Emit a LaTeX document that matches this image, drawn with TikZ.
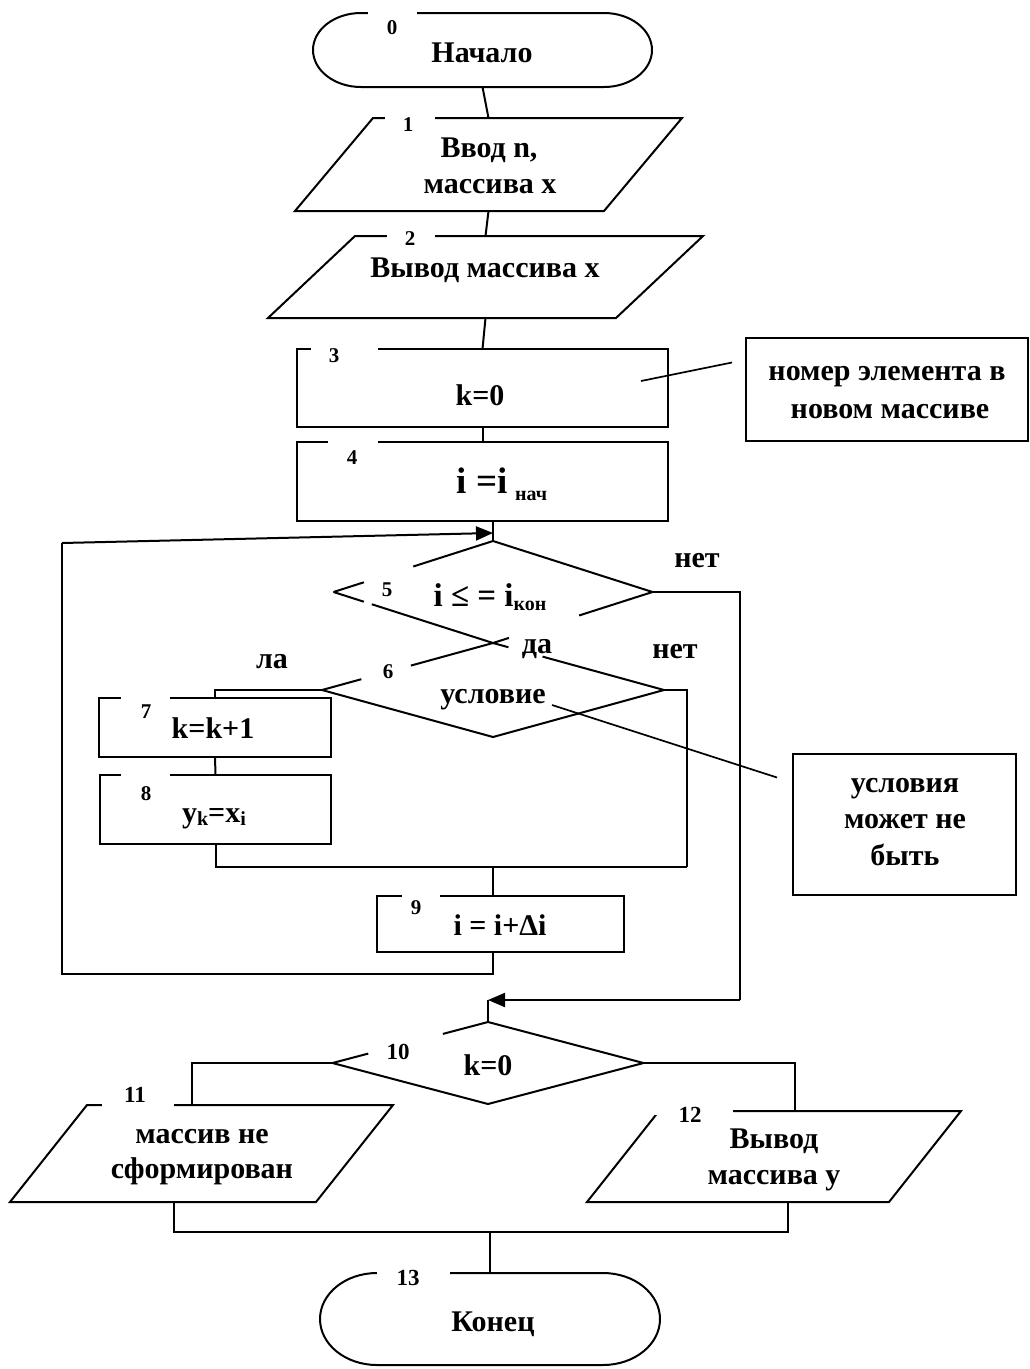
\documentclass[tikz,border=0pt]{standalone}
\usepackage{fontspec}
\setmainfont{Liberation Serif}
\usetikzlibrary{arrows.meta,calc,shapes.geometric}
\newcommand{\lowsub}[2][5pt]{\raisebox{-#1}{\fontsize{20}{20}\selectfont #2}}
\begin{document}
\begin{tikzpicture}[x=1pt,y=-1pt,
  line width=2pt,
  frame/.style={draw=none,inner sep=0pt,outer sep=0pt,rectangle},
  boxnode/.style={draw,inner sep=0pt,outer sep=0pt,rectangle},
  decision/.style={draw=none,inner sep=0pt,outer sep=0pt,diamond},
  txt/.style={font=\fontsize{30}{36}\selectfont\bfseries,inner sep=0pt,anchor=base},
  num/.style={font=\fontsize{21}{21}\selectfont\bfseries,inner sep=0pt},
  bignum/.style={font=\fontsize{23}{23}\selectfont\bfseries,inner sep=0pt},
  arr/.style={-{Triangle[length=17pt,width=14pt]}},
  note/.style={line width=1.7pt}]

\fill[white] (0,0) rectangle (1030,1369);
\useasboundingbox (0,0) rectangle (1030,1369);

% ---------- block frames ----------
\node[frame,minimum width=339pt,minimum height=74pt] (s0) at (482.5,50) {};
\node[frame,minimum width=387pt,minimum height=93pt] (s1) at (488.5,164.5) {};
\node[frame,minimum width=435pt,minimum height=82pt] (s2) at (485.5,277) {};
\node[boxnode,minimum width=371pt,minimum height=78pt] (s3) at (482.5,388) {};
\node[boxnode,minimum width=371pt,minimum height=79pt] (s4) at (482.5,481.5) {};
\node[decision,minimum width=319pt,minimum height=102pt] (s5) at (493,592) {};
\node[decision,minimum width=342pt,minimum height=94pt] (s6) at (493,690) {};
\node[boxnode,minimum width=232pt,minimum height=59pt] (s7) at (215,727.5) {};
\node[boxnode,minimum width=231pt,minimum height=69pt] (s8) at (215.5,809.5) {};
\node[boxnode,minimum width=247pt,minimum height=56pt] (s9) at (500.5,924) {};
\node[decision,minimum width=311pt,minimum height=82pt] (s10) at (488,1063) {};
\node[frame,minimum width=383pt,minimum height=97pt] (s11) at (201.5,1153.5) {};
\node[frame,minimum width=374pt,minimum height=91pt] (s12) at (774,1156.5) {};
\node[frame,minimum width=340pt,minimum height=92pt] (s13) at (490,1319) {};
\node[boxnode,minimum width=282pt,minimum height=103pt] (a1) at (887,389.5) {};
\node[boxnode,minimum width=223pt,minimum height=141pt] (a2) at (904.5,824.5) {};

% ---------- terminals ----------
\draw ([xshift=48pt]s0.north west) -- ([xshift=-48pt]s0.north east)
  arc[start angle=90,end angle=-90,x radius=48pt,y radius=37pt]
  -- ([xshift=48pt]s0.south west)
  arc[start angle=270,end angle=90,x radius=48pt,y radius=37pt] -- cycle;
\draw ([xshift=57pt]s13.north west) -- ([xshift=-57pt]s13.north east)
  arc[start angle=90,end angle=-90,x radius=57pt,y radius=46pt]
  -- ([xshift=57pt]s13.south west)
  arc[start angle=270,end angle=90,x radius=57pt,y radius=46pt] -- cycle;

% ---------- data blocks ----------
\draw (s1.south west) -- ([xshift=-78pt]s1.south east) -- (s1.north east) -- ([xshift=78pt]s1.north west) -- cycle;
\draw (s2.south west) -- ([xshift=-87pt]s2.south east) -- (s2.north east) -- ([xshift=87pt]s2.north west) -- cycle;
\draw (s11.south west) -- ([xshift=-77pt]s11.south east) -- (s11.north east) -- ([xshift=77pt]s11.north west) -- cycle;
\draw (s12.south west) -- ([xshift=-72pt]s12.south east) -- (s12.north east) -- ([xshift=72pt]s12.north west) -- cycle;

% ---------- decisions (outlines with openings) ----------
\draw (s5.west) -- ($(s5.west)!0.19!(s5.north)$);
\draw ($(s5.west)!0.5!(s5.north)$) -- (s5.north) -- (s5.east) -- ($(s5.east)!0.46!(s5.south)$);
\draw (s5.west) -- ($(s5.west)!0.19!(s5.south)$);
\draw ($(s5.west)!0.24!(s5.south)$) -- (s5.south) -- ($(s5.south)!0.1!(s5.east)$);

\draw (s6.west) -- ($(s6.west)!0.23!(s6.north)$);
\draw ($(s6.west)!0.52!(s6.north)$) -- (s6.north) -- ($(s6.north)!0.09!(s6.east)$);
\draw ($(s6.north)!0.29!(s6.east)$) -- (s6.east) -- (s6.south) -- (s6.west);

\draw (s10.west) -- ($(s10.west)!0.23!(s10.north)$);
\draw ($(s10.west)!0.71!(s10.north)$) -- (s10.north) -- (s10.east) -- (s10.south) -- (s10.west);

% ---------- connectors ----------
\coordinate (lt) at (62,543);
\coordinate (lb) at (62,974);
\coordinate (rb) at (740,1000);
\coordinate (r6) at (687,867);
\coordinate (j13) at (490,1232);

\draw (s0.south) -- (s1.north);
\draw (s1.south) -- (s2.north);
\draw (s2.south) -- (s3.north);
\draw (s3.south) -- (s4.north);
\draw (s5.north |- s4.south) -- (s5.north);

% loop back
\draw (s9.south -| s5.north) -- (s5.north |- lb) -- (lb) -- (lt);
\draw[arr] (lt) -- ($(s5.north)+(0,-8)$);

% exit of the loop
\draw (s5.east) -| (rb);
\draw[arr] (rb) -- (rb -| s10.north);
\draw (rb -| s10.north) -- (s10.north);

% condition branches
\draw (s6.west) -| (s7.north);
\draw (s7.south) -- (s8.north);
\draw (s8.south) |- (r6);
\draw (s6.east) -| (r6);
\draw (s5.north |- r6) -- (s5.north |- s9.north);

% final branches
\draw (s10.west) -| ($(s11.north)+(-10,0)$);
\draw (s10.east) -| ($(s12.north)+(21,0)$);
\draw ($(s11.south)+(-28,0)$) |- (j13) -| ($(s12.south)+(14,0)$);
\draw (j13) -- (s13.north);

% comment leaders
\draw[note] ($(s3.east)+(-27,-7)$) -- ($(a1.west)+(-14,-27)$);
\draw[note] ($(s6.center)+(59,15)$) -- ($(a2.west)+(-16,-47)$);

% ---------- openings for block numbers ----------
\fill[white] (368,9) rectangle (417,17);
\fill[white] (385,114) rectangle (435,122);
\fill[white] (387,232) rectangle (435,240);
\fill[white] (311,345) rectangle (378,353);
\fill[white] (328,438) rectangle (378,446);
\fill[white] (121,694) rectangle (170,702);
\fill[white] (121,771) rectangle (170,779);
\fill[white] (402,892) rectangle (440,900);
\fill[white] (102,1101) rectangle (174,1109);
\fill[white] (655,1107) rectangle (733,1115);
\fill[white] (377,1269) rectangle (450,1277);

% ---------- block numbers ----------
\node[num] (n0) at (392,28) {0};
\node[num] (n1) at (408,125) {1};
\node[num] (n2) at (410,239) {2};
\node[num] (n3) at (334,356) {3};
\node[num] (n4) at (352,458) {4};
\node[num] (n5) at (387,590) {5};
\node[num] (n6) at (388,672) {6};
\node[num] (n7) at (146,712) {7};
\node[num] (n8) at (146,794) {8};
\node[num] (n9) at (416,908) {9};
\node[bignum] (n10) at (398,1052) {10};
\node[bignum] (n11) at (135,1095) {11};
\node[bignum] (n12) at (690,1115) {12};
\node[bignum] (n13) at (408,1278) {13};

% ---------- block texts ----------
\node[txt] (t0) at (482,62) {Начало};
\node[txt] (t1a) at (489,157) {Ввод n,};
\node[txt] (t1b) at (490,193) {массива x};
\node[txt] (t2) at (485,277) {Вывод массива x};
\node[txt] (t3) at (480,405) {k=0};
\node[txt] (t4) at (502,493) {{\fontsize{37}{37}\selectfont i =i} \lowsub[7pt]{нач}};
\node[txt] (t5) at (490,606) {{\fontsize{33}{33}\selectfont i ≤ = i}\lowsub[4pt]{кон}};
\node[txt] (t6) at (493,703) {условие};
\node[txt] (t7) at (213,738) {k=k+1};
\node[txt] (t8) at (214,822) {y\lowsub[3pt]{k}=x\lowsub[3pt]{i}};
\node[txt] (t9) at (500,935) {i = i+Δi};
\node[txt] (t10) at (488,1075) {k=0};
\node[txt] (t11a) at (202,1143) {массив не};
\node[txt] (t11b) at (202,1178) {сформирован};
\node[txt] (t12a) at (774,1148) {Вывод};
\node[txt] (t12b) at (774,1184) {массива y};
\node[txt] (t13) at (493,1331) {Конец};

% ---------- branch labels ----------
\node[txt] (yes5) at (537,653) {да};
\node[txt] (no5) at (697,567) {нет};
\node[txt] (no6) at (675,658) {нет};
\node[txt] (yes6) at (272,668) {ла};

% ---------- comments ----------
\node[txt] (c1a) at (887,380) {номер элемента в};
\node[txt] (c1b) at (890,418) {новом массиве};
\node[txt] (c2a) at (905,792) {условия};
\node[txt] (c2b) at (905,828) {может не};
\node[txt] (c2c) at (905,865) {быть};
\end{tikzpicture}
\end{document}
